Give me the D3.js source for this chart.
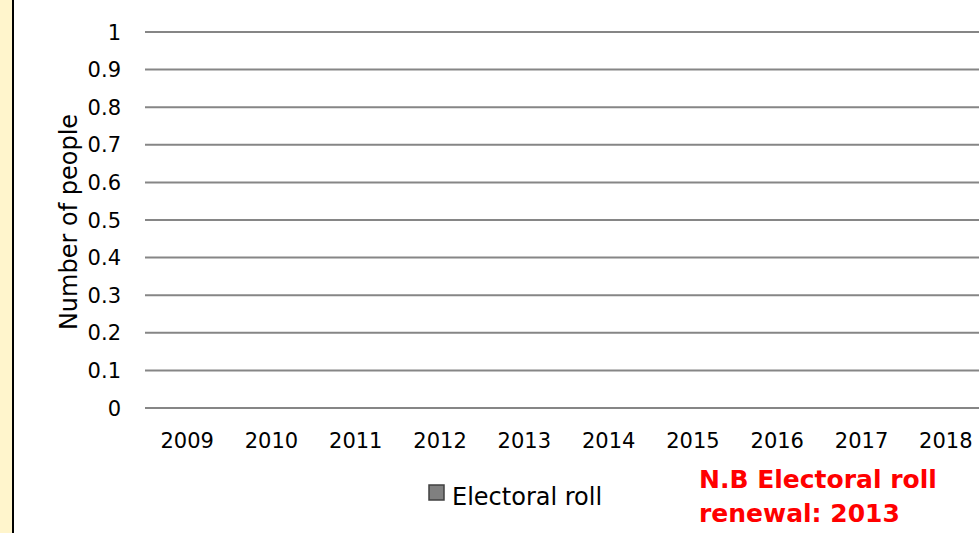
<!DOCTYPE html>
<html lang="en">
<head>
<meta charset="UTF-8">
<title>electoral roll</title>
<script src="https://d3js.org/d3.v7.min.js"></script>
<style>
    body{ margin:0; background:#fff; overflow:hidden; }
    text{ font-family: "DejaVu Sans", sans-serif; fill:#000; }
</style>
</head>
<body>
<svg id="chart" width="979" height="533"></svg>
<script>
    // data
    let years = ["2009","2010","2011","2012","2013","2014","2015","2016","2017","2018"];
    let electoral_roll = [0,0,0,0,0,0,0,0,0,0];
    let yTicks = [0,0.1,0.2,0.3,0.4,0.5,0.6,0.7,0.8,0.9,1];

    let svg = d3.select("#chart");

    // left strip
    svg.append("rect").attr("x",0).attr("y",0).attr("width",13).attr("height",533).attr("fill","#fff5cc");
    svg.append("line").attr("x1",13).attr("x2",13).attr("y1",0).attr("y2",533)
        .attr("stroke","#000").attr("stroke-width",2);

    let x = d3.scaleBand().domain(years).range([145,988]);
    let y = d3.scaleLinear().domain([0,1]).range([408,32]);

    // gridlines
    svg.append("g").selectAll("line").data(yTicks).join("line")
        .attr("x1",145).attr("x2",979)
        .attr("y1",d=>y(d)).attr("y2",d=>y(d))
        .attr("stroke","#868686").attr("stroke-width",2);

    // y labels
    svg.append("g").selectAll("text").data(yTicks).join("text")
        .attr("x",121).attr("y",d=>y(d)).attr("dy","0.36em")
        .attr("text-anchor","end").attr("font-size",21)
        .text(d=>d===0 ? "0" : d===1 ? "1" : d3.format(".1f")(d));

    // bars (all zero)
    svg.append("g").selectAll("rect").data(electoral_roll).join("rect")
        .attr("x",(d,i)=>x(years[i])+x.bandwidth()*0.25)
        .attr("width",x.bandwidth()*0.5)
        .attr("y",d=>y(d)).attr("height",d=>y(0)-y(d))
        .attr("fill","#808080");

    // x labels
    svg.append("g").selectAll("text").data(years).join("text")
        .attr("x",d=>x(d)+x.bandwidth()/2).attr("y",448)
        .attr("text-anchor","middle").attr("font-size",21)
        .text(d=>d);

    // axis title
    svg.append("text")
        .attr("transform","translate(77,222) rotate(-90)")
        .attr("text-anchor","middle").attr("font-size",24)
        .text("Number of people");

    // legend
    svg.append("rect").attr("x",429).attr("y",485).attr("width",15).attr("height",15)
        .attr("fill","#808080").attr("stroke","#404040").attr("stroke-width",1.5);
    svg.append("text").attr("x",452).attr("y",505).attr("font-size",24).text("Electoral roll");

    // note
    let note = svg.append("text").attr("font-size",25).attr("font-weight","bold")
        .style("fill","#ff0000");
    note.append("tspan").attr("x",699).attr("y",488).text("N.B Electoral roll");
    note.append("tspan").attr("x",699).attr("y",522).text("renewal: 2013");
</script>
</body>
</html>
